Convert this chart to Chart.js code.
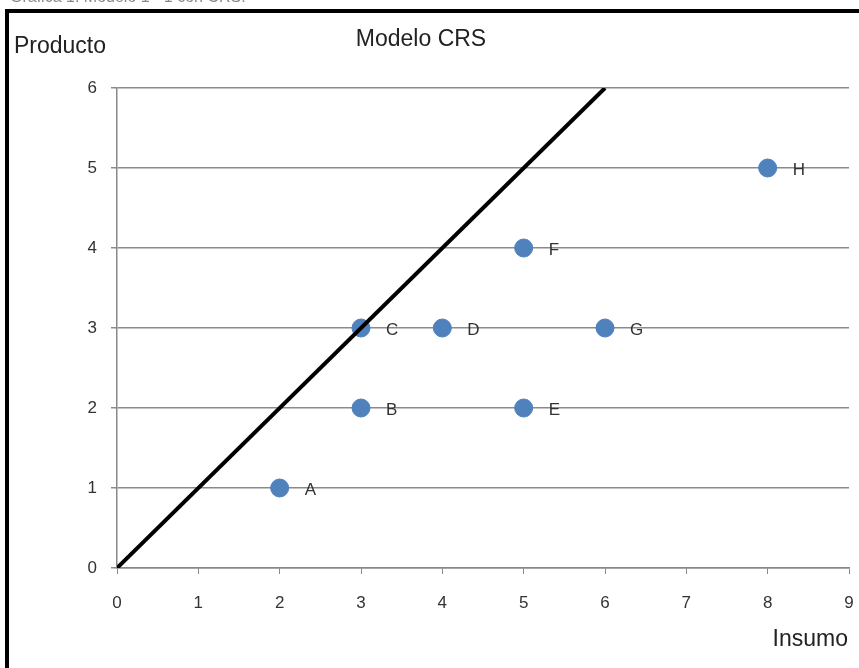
<!DOCTYPE html>
<html>
<head>
<meta charset="utf-8">
<script src="https://cdn.jsdelivr.net/npm/chart.js@4"></script>
<style>
  html, body { margin: 0; padding: 0; background: #fff; }
  #wrap { width: 859px; height: 668px; position: relative; }
</style>
</head>
<body>
<div id="wrap"><canvas id="myChart" width="859" height="668"></canvas></div>
<script>
// DMU data (insumo = input, producto = output)
const dmuNames = ["A", "B", "C", "D", "E", "F", "G", "H"];
const insumo = [2, 3, 3, 4, 5, 5, 6, 8];
const producto = [1, 2, 3, 3, 2, 4, 3, 5];

// CRS frontier
const frontierX = [0, 6];
const frontierY = [0, 6];

const xTicks = [0, 1, 2, 3, 4, 5, 6, 7, 8, 9];
const yTicks = [0, 1, 2, 3, 4, 5, 6];

const chartTitle = "Modelo CRS";
const yTitle = "Producto";
const xTitle = "Insumo";
const captionText = "Gráfica 1. Modelo 1 - 1 con CRS.";

const FONT = "'Liberation Sans', Arial, sans-serif";

const ctx = document.getElementById("myChart").getContext("2d");

// frame + titles + point letters
const extras = {
  id: "extras",
  beforeDraw(chart) {
    const c = chart.ctx;
    c.save();
    c.fillStyle = "#fff";
    c.fillRect(0, 0, chart.width, chart.height);
    c.strokeStyle = "#000";
    c.lineWidth = 4;
    c.strokeRect(7, 11, 900, 700);
    c.restore();
  },
  afterDraw(chart) {
    const c = chart.ctx;
    c.save();
    c.fillStyle = "#888";
    c.font = "16px " + FONT;
    c.textBaseline = "alphabetic";
    c.fillText(captionText, 10, 2);

    c.fillStyle = "#222";
    c.font = "23px " + FONT;
    c.textBaseline = "middle";
    c.textAlign = "left";
    c.fillText(yTitle, 14, 47);
    c.textAlign = "center";
    c.fillText(chartTitle, 421, 40);
    c.textAlign = "right";
    c.fillText(xTitle, 848, 640);

    const xs = chart.scales.x, ys = chart.scales.y;
    c.fillStyle = "#333";
    c.font = "17px " + FONT;
    c.textAlign = "left";
    dmuNames.forEach((n, i) => {
      c.fillText(n, xs.getPixelForValue(insumo[i]) + 25, ys.getPixelForValue(producto[i]) + 2);
    });
    c.restore();
  },
};

const myChart = new Chart(ctx, {
  type: "scatter",
  data: {
    datasets: [
      {
        label: "Frontera CRS",
        type: "line",
        data: frontierX.map((x, i) => ({ x: x, y: frontierY[i] })),
        borderColor: "#000",
        borderWidth: 4,
        pointRadius: 0,
        fill: false,
      },
      {
        label: "DMU",
        data: insumo.map((x, i) => ({ x: x, y: producto[i] })),
        backgroundColor: "#4f81bd",
        borderColor: "#4f81bd",
        pointRadius: 9,
        pointHoverRadius: 9,
      },
    ],
  },
  options: {
    responsive: false,
    animation: false,
    layout: { padding: { left: 0, top: 88, right: 10, bottom: 50 } },
    plugins: { legend: { display: false }, tooltip: { enabled: false } },
    scales: {
      x: {
        type: "linear",
        min: 0,
        max: 9,
        afterBuildTicks: (s) => { s.ticks = xTicks.map((v) => ({ value: v })); },
        afterFit: (s) => { s.height = 50; s.paddingLeft = 0; s.paddingRight = 0; },
        grid: { drawOnChartArea: false, drawTicks: true, tickLength: 6, color: "#888" },
        border: { color: "#888", width: 1.5 },
        ticks: { padding: 19, color: "#333", font: { family: FONT, size: 17 } },
      },
      y: {
        min: 0,
        max: 6,
        afterBuildTicks: (s) => { s.ticks = yTicks.map((v) => ({ value: v })); },
        afterFit: (s) => { s.width = 117; s.paddingTop = 0; s.paddingBottom = 0; },
        grid: { color: "#8a8a8a", lineWidth: 1.5, tickLength: 6 },
        border: { color: "#888", width: 1.5 },
        ticks: { padding: 14, color: "#333", font: { family: FONT, size: 17 } },
      },
    },
  },
  plugins: [extras],
});
</script>
</body>
</html>
